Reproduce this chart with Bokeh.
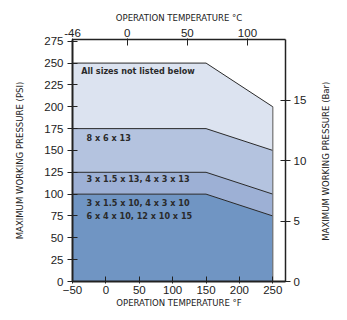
import math
from bokeh.plotting import figure
from bokeh.models import Range1d, LinearAxis, FixedTicker, CustomJSTickFormatter, Label
from bokeh.embed import file_html
from bokeh.resources import INLINE

# ---- data ----
temp_f = [-50, 150, 250]
all_sizes = [250, 250, 200]
size_8x6x13 = [175, 175, 150]
size_3x15x13 = [125, 125, 100]
size_3x15x10 = [100, 100, 75]
series = [all_sizes, size_8x6x13, size_3x15x13, size_3x15x10]
series_colors = ["#dce3f0", "#b4c3df", "#9db0d5", "#7095c3"]
band_labels = ["All sizes not listed below", "8 x 6 x 13", "3 x 1.5 x 13, 4 x 3 x 13",
               "3 x 1.5 x 10, 4 x 3 x 10\n6 x 4 x 10, 12 x 10 x 15"]
x_ticks_f = [-50, 0, 50, 100, 150, 200, 250]
y_ticks_psi = [0, 25, 50, 75, 100, 125, 150, 175, 200, 225, 250, 275]
c_ticks = [0, 50, 100]
bar_ticks = [0, 5, 10, 15]

X_START, X_END = -50, 269
Y_START, Y_END = 0, 277
BAR_END = 20

def f_to_c(f):
    return (f - 32) * 5.0 / 9.0

TICK_FONT = "Liberation Sans"
TITLE_FONT = "DejaVu Sans Condensed"
DARK = "#222222"

p = figure(width=339, height=312, output_backend="svg", toolbar_location=None,
           x_range=Range1d(X_START, X_END), y_range=Range1d(Y_START, Y_END),
           min_border_left=72, min_border_right=51, min_border_top=39, min_border_bottom=31)
p.extra_x_ranges = {"c": Range1d(f_to_c(X_START), f_to_c(X_END))}
p.extra_y_ranges = {"bar": Range1d(0, BAR_END)}
p.xgrid.visible = False
p.ygrid.visible = False
p.outline_line_color = None

# bands
for vals, col in zip(series, series_colors):
    xs = [temp_f[0]] + temp_f + [temp_f[-1]]
    ys = [0] + vals + [0]
    p.patch(xs, ys, fill_color=col, line_color=None)
for vals in series:
    p.line(temp_f, vals, line_color="#2a2a2a", line_width=1)
p.segment(x0=[temp_f[-1]], y0=[0], x1=[temp_f[-1]], y1=[all_sizes[-1]],
          line_color="#707070", line_width=1.2)

# band labels
LBL_SIZE = "9px"
label_pos = [(-37, all_sizes[0] - 9.5), (-29, size_8x6x13[0] - 10.5),
             (-29, size_3x15x13[0] - 7.5)]
for (lx, ly), t in zip(label_pos, band_labels[:3]):
    p.add_layout(Label(x=lx, y=ly, text=t, text_font=TITLE_FONT, text_font_style="bold",
                       text_font_size=LBL_SIZE, text_color="#2a2a2a", text_baseline="middle"))
for i, t in enumerate(band_labels[3].split("\n")):
    p.add_layout(Label(x=-29, y=size_3x15x10[0] - 10.5 - i * 14, text=t, text_font=TITLE_FONT,
                       text_font_style="bold", text_font_size=LBL_SIZE, text_color="#2a2a2a",
                       text_baseline="middle"))

def style(ax, tin, tout, lw):
    ax.axis_line_color = DARK
    ax.axis_line_width = lw
    ax.major_tick_line_color = DARK
    ax.major_tick_line_width = 1
    ax.major_tick_in = tin
    ax.major_tick_out = tout
    ax.minor_tick_line_color = None
    ax.major_label_text_font = TICK_FONT
    ax.major_label_text_font_size = "11.5px"
    ax.major_label_text_color = DARK
    ax.axis_label_text_font = TITLE_FONT
    ax.axis_label_text_font_size = "9.5px"
    ax.axis_label_text_font_style = "normal"
    ax.axis_label_text_color = DARK

# bottom
xa = p.xaxis[0]
xa.ticker = FixedTicker(ticks=x_ticks_f)
xa.axis_label = "OPERATION TEMPERATURE °F"
style(xa, 5, 2, 2)
xa.major_label_standoff = 2
xa.axis_label_standoff = 0

# left
ya = p.yaxis[0]
ya.ticker = FixedTicker(ticks=y_ticks_psi)
ya.axis_label = "MAXIMUM WORKING PRESSURE (PSI)"
style(ya, 5, 5, 2)
ya.major_label_standoff = 4
ya.axis_label_standoff = 16

# top (Celsius)
ta = LinearAxis(x_range_name="c",
                ticker=FixedTicker(ticks=[f_to_c(X_START)] + c_ticks),
                formatter=CustomJSTickFormatter(code="return Math.round(tick).toString();"))
ta.axis_label = "OPERATION TEMPERATURE °C"
style(ta, 6, 1, 1.5)
ta.major_label_standoff = 2
ta.axis_label_standoff = 3
p.add_layout(ta, "above")

# right (Bar) - label reads bottom-to-top, anchored at the axis start and padded
ra = LinearAxis(y_range_name="bar", ticker=FixedTicker(ticks=bar_ticks))
ra.axis_label = "\u00a0" * 15 + "MAXIMUM WORKING PRESSURE (Bar)"
style(ra, 5, 5, 1.5)
ra.major_label_standoff = 3
ra.axis_label_standoff = 16
ra.axis_label_orientation = math.pi / 2
ra.axis_label_align = "start"
p.add_layout(ra, "right")

open("out.html", "w").write(file_html(p, INLINE))
